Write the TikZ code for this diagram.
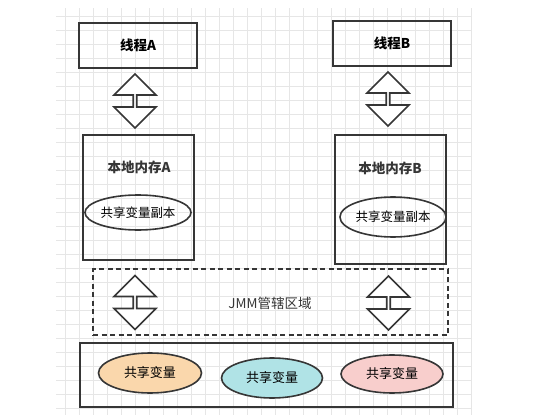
\documentclass[tikz,border=0pt]{standalone}
\usepackage{fontspec}
\setmainfont{Noto Sans CJK SC}
\usetikzlibrary{shapes.geometric,shapes.arrows}
\definecolor{linegray}{HTML}{363636}
\definecolor{gridgray}{HTML}{E6E6E6}
\definecolor{orangefill}{HTML}{FAD7AC}
\definecolor{cyanfill}{HTML}{B0E3E6}
\definecolor{pinkfill}{HTML}{F8CECC}

\begin{document}
\begin{tikzpicture}[x=1pt,y=-1pt,
		box/.style={draw=linegray,line width=1.6pt,inner sep=0pt,font=\fontsize{13.5}{15}\selectfont},
		copy/.style={ellipse,draw=linegray,line width=1.6pt,inner sep=0pt,font=\fontsize{12.5}{15}\selectfont},
		fat/.style={double arrow,draw=linegray,line width=1.6pt,fill=white,rotate=90,
			minimum height=54pt,minimum width=42pt,double arrow head extend=9pt,inner sep=0pt},
		title/.style={font=\bfseries\fontsize{13.5}{15}\selectfont,text=linegray}]
		\useasboundingbox (0,0) rectangle (542,415);
		% grid
		\fill[white] (56,8) rectangle (472,415);
		\foreach \x in {65,79,...,471} \draw[gridgray,line width=0.8pt] (\x,8) -- (\x,415);
		\foreach \y in {16,30,...,414} \draw[gridgray,line width=0.8pt] (56,\y) -- (472,\y);
		% threads
		\node[box,minimum width=118pt,minimum height=45pt] (threadA) at (138,45.5) {\bfseries 线程A};
		\node[box,minimum width=118pt,minimum height=45pt] (threadB) at (392,43.5) {\bfseries 线程B};
		% local memory
		\node[box,minimum width=111pt,minimum height=125pt] (memA) at (138.5,197.5) {};
		\node[box,minimum width=111pt,minimum height=129pt] (memB) at (390.5,199.5) {};
		\node[title] (memAtext) at (139,167) {本地内存A};
		\node[title] (memBtext) at (390,168) {本地内存B};
		\node[copy,minimum width=102pt,minimum height=35pt] (copyA) at (138,212.5) {共享变量副本};
		\node[copy,minimum width=102pt,minimum height=40pt] (copyB) at (393,217) {共享变量副本};
		% JMM area
		\node[box,dash pattern=on 5pt off 3.5pt,minimum width=355pt,minimum height=66pt] (jmm) at (270.5,302) {};
		\node[font=\fontsize{13.5}{15}\selectfont,text=linegray] (jmmtext) at (270,303) {JMM管辖区域};
		% main memory
		\node[box,minimum width=373pt,minimum height=64pt] (main) at (266.5,375) {};
		\node[copy,fill=orangefill,minimum width=103pt,minimum height=40pt,font=\fontsize{13}{15}\selectfont] (varA) at (150,373) {共享变量};
		\node[copy,fill=cyanfill,minimum width=101pt,minimum height=40pt,font=\fontsize{13}{15}\selectfont] (varB) at (272,378) {共享变量};
		\node[copy,fill=pinkfill,minimum width=102pt,minimum height=38pt,font=\fontsize{13}{15}\selectfont] (varC) at (392,374) {共享变量};
		% double arrows
		\node[fat] (arrA) at (135,101) {};
		\node[fat] (arrB) at (388,99) {};
		\node[fat] (arrC) at (135,302.5) {};
		\node[fat] (arrD) at (388.5,303) {};
	\end{tikzpicture}
\end{document}
